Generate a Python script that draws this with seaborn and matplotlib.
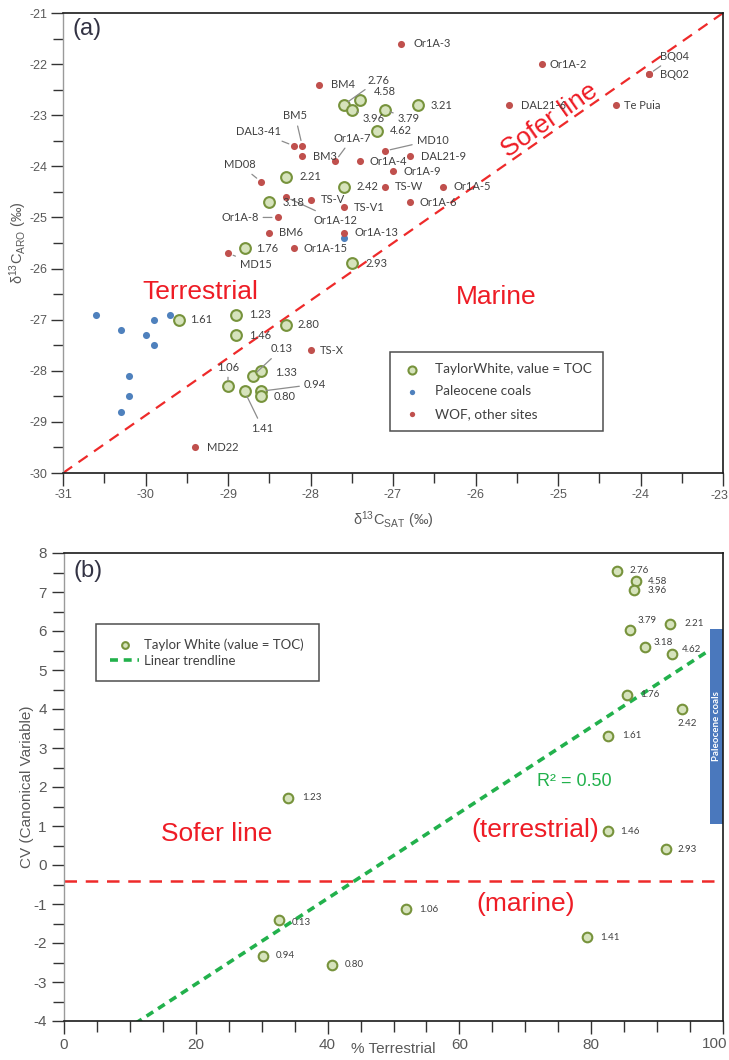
import numpy as np
import matplotlib
matplotlib.use("Agg")
import matplotlib.pyplot as plt
import seaborn as sns
from matplotlib.ticker import MultipleLocator, FuncFormatter

# ---------------- data: panel (a) ----------------
wof_names = ["Or1A-3", "Or1A-2", "BQ04", "BQ02", "DAL21-6", "Te Puia", "BM4", "BM5",
             "DAL3-41", "BM3", "Or1A-7", "Or1A-4", "MD10", "DAL21-9", "MD08", "Or1A-9",
             "TS-W", "Or1A-5", "TS-V", "Or1A-12", "TS-V1", "Or1A-6", "Or1A-8", "BM6",
             "Or1A-13", "Or1A-15", "MD15", "TS-X", "MD22"]
wof_sat = [-26.9, -25.2, -23.9, -23.9, -25.6, -24.3, -27.9, -28.1,
           -28.2, -28.1, -27.7, -27.4, -27.1, -26.8, -28.6, -27.0,
           -27.1, -26.4, -28.0, -28.3, -27.6, -26.8, -28.4, -28.5,
           -27.6, -28.2, -29.0, -28.0, -29.4]
wof_aro = [-21.6, -22.0, -22.2, -22.2, -22.8, -22.8, -22.4, -23.6,
           -23.6, -23.8, -23.9, -23.9, -23.7, -23.8, -24.3, -24.1,
           -24.4, -24.4, -24.65, -24.6, -24.8, -24.7, -25.0, -25.3,
           -25.3, -25.6, -25.7, -27.6, -29.5]

coal_sat = [-30.6, -29.7, -30.3, -29.9, -30.0, -29.9, -30.2, -30.2, -30.3, -27.6]
coal_aro = [-26.9, -26.9, -27.2, -27.0, -27.3, -27.5, -28.1, -28.5, -28.8, -25.4]

tw_toc = ["2.76", "4.58", "3.96", "3.79", "3.21", "4.62", "2.21", "2.42", "3.18",
          "1.76", "2.93", "1.61", "1.23", "1.46", "2.80", "0.13", "1.33", "1.06",
          "1.41", "0.94", "0.80"]
tw_sat = [-27.6, -27.4, -27.5, -27.1, -26.7, -27.2, -28.3, -27.6, -28.5,
          -28.8, -27.5, -29.6, -28.9, -28.9, -28.3, -28.7, -28.6, -29.0,
          -28.8, -28.6, -28.6]
tw_aro = [-22.8, -22.7, -22.9, -22.9, -22.8, -23.3, -24.2, -24.4, -24.7,
          -25.6, -25.9, -27.0, -26.9, -27.3, -27.1, -28.1, -28.0, -28.3,
          -28.4, -28.4, -28.5]

sofer_sat = [-31.0, -23.0]
sofer_aro = [-30.0, -21.0]

# ---------------- data: panel (b) ----------------
twb_toc = ["2.76", "4.58", "3.96", "3.79", "2.21", "3.18", "4.62", "1.76", "2.42",
           "1.61", "1.46", "2.93", "1.41", "1.23", "0.13", "1.06", "0.94", "0.80"]
twb_terr = [83.9, 86.8, 86.5, 85.9, 92.0, 88.2, 92.3, 85.4, 93.8,
            82.5, 82.5, 91.3, 79.4, 34.0, 32.6, 51.9, 30.2, 40.7]
twb_cv = [7.54, 7.28, 7.05, 6.03, 6.18, 5.59, 5.41, 4.36, 4.00,
          3.31, 0.87, 0.41, -1.85, 1.72, -1.41, -1.13, -2.33, -2.56]
sofer_cv = -0.4
trend_x = [0.0, 98.0]
coal_bar_terr = [98.0, 100.0]
coal_bar_cv = [1.05, 6.05]

# ---------------- label layout (pixel offsets) ----------------
lab_a = {
    "Or1A-3": (12, 0, "left", False), "Or1A-2": (8, 0, "left", False),
    "BQ04": (11, 18, "left", True), "BQ02": (11, 0, "left", False),
    "DAL21-6": (12, 0, "left", False), "Te Puia": (8, 0, "left", False),
    "BM4": (12, 0, "left", False), "BM5": (-7, 30, "center", True),
    "DAL3-41": (-13, 14, "right", True), "BM3": (11, 0, "left", False),
    "Or1A-7": (17, 23, "center", True), "Or1A-4": (10, 0, "left", False),
    "MD10": (32, 11, "left", True), "DAL21-9": (11, 0, "left", False),
    "MD08": (-21, 17, "center", True), "Or1A-9": (11, 0, "left", False),
    "TS-W": (10, 0, "left", False), "Or1A-5": (11, 0, "left", False),
    "TS-V": (10, 0, "left", False), "Or1A-12": (28, -23, "left", True),
    "TS-V1": (10, 0, "left", False), "Or1A-6": (10, 0, "left", False),
    "Or1A-8": (-19, 0, "right", True), "BM6": (10, 0, "left", False),
    "Or1A-13": (11, 0, "left", False), "Or1A-15": (10, 0, "left", False),
    "MD15": (12, -11, "left", True), "TS-X": (9, 0, "left", False),
    "MD22": (12, 0, "left", False),
}
lab_tw = {
    "2.76": (24, 25, "left", True), "4.58": (14, 8, "left", False),
    "3.96": (11, -8, "left", True), "3.79": (13, -8, "left", True),
    "3.21": (13, 0, "left", False), "4.62": (13, 0, "left", False),
    "2.21": (14, 0, "left", False), "2.42": (13, 0, "left", False),
    "3.18": (13, 0, "left", False), "1.76": (12, 0, "left", False),
    "2.93": (14, 0, "left", False), "1.61": (12, 0, "left", False),
    "1.23": (13, 0, "left", False), "1.46": (13, 0, "left", False),
    "2.80": (12, 0, "left", False), "0.13": (18, 27, "left", True),
    "1.33": (14, -2, "left", False), "1.06": (0, 19, "center", True),
    "0.94": (43, 7, "left", True), "0.80": (13, 0, "left", False),
    "1.41": (18, -37, "center", True),
}
lab_b = {
    "2.76": (13, 0, "left"), "4.58": (12, 0, "left"), "3.96": (14, 0, "left"),
    "3.79": (7, 9, "left"), "2.21": (14, 0, "left"), "3.18": (8, 4, "left"),
    "4.62": (10, 5, "left"), "1.76": (13, 0, "left"), "2.42": (5, -15, "center"),
    "1.61": (14, 0, "left"), "1.46": (12, 0, "left"), "2.93": (12, 0, "left"),
    "1.41": (13, 0, "left"), "1.23": (14, 0, "left"), "0.13": (13, -3, "left"),
    "1.06": (13, 0, "left"), "0.94": (13, 0, "left"), "0.80": (13, 0, "left"),
}

# ---------------- style ----------------
sns.set_style("ticks")
plt.rcParams["font.family"] = ["Liberation Sans", "DejaVu Sans"]
plt.rcParams["axes.unicode_minus"] = False
plt.rcParams["mathtext.fontset"] = "custom"
plt.rcParams["mathtext.rm"] = "Liberation Sans"
plt.rcParams["mathtext.it"] = "Liberation Sans:italic"

GREEN_FACE = "#D6E3BC"
GREEN_EDGE = "#77933C"
RED = "#C0504D"
BLUE = "#4F81BD"
SOFER = "#EE2A2A"
TREND = "#22B14C"
LABEL = "#404040"
AXIS_GRAY = "#595959"
LABFONT = ["Lato", "DejaVu Sans"]

fig = plt.figure(figsize=(7.29, 10.60), dpi=100)
ax1 = fig.add_axes([63 / 729, 1 - 473 / 1060, 660 / 729, 460 / 1060])
ax2 = fig.add_axes([64 / 729, 1 - 1021 / 1060, 659 / 729, 468 / 1060])


def style_axes(ax, size, pad):
    for side in ["top", "right", "bottom"]:
        ax.spines[side].set_color("#1a1a1a")
        ax.spines[side].set_linewidth(1.2)
    ax.spines["left"].set_color("#9a9a9a")
    ax.spines["left"].set_linewidth(1.0)
    ax.tick_params(which="major", direction="out", length=9, width=1.0, pad=pad,
                   colors="#333333", labelcolor=AXIS_GRAY, labelsize=size)
    ax.tick_params(which="minor", direction="out", length=7, width=1.0, colors="#333333")


def annotate(ax, text, x, y, dx, dy, ha, leader, size, fam):
    arrow = None
    if leader:
        arrow = dict(arrowstyle="-", color="#8c8c8c", lw=0.9, shrinkA=1, shrinkB=4)
    ax.annotate(text, (x, y), xytext=(dx, dy), textcoords="offset pixels",
                ha=ha, va="center", fontsize=size, color=LABEL, family=fam,
                arrowprops=arrow, zorder=5)


# ---------------- panel (a) ----------------
sns.lineplot(x=sofer_sat, y=sofer_aro, ax=ax1, color=SOFER, lw=1.6,
             linestyle=(0, (5, 3.5)), zorder=1)
sns.scatterplot(x=tw_sat, y=tw_aro, ax=ax1, s=60, color=GREEN_FACE,
                edgecolor=GREEN_EDGE, linewidth=1.5, zorder=3,
                label="TaylorWhite, value = TOC")
sns.scatterplot(x=coal_sat, y=coal_aro, ax=ax1, s=26, color=BLUE,
                edgecolor=BLUE, linewidth=0, zorder=3, label="Paleocene coals")
sns.scatterplot(x=wof_sat, y=wof_aro, ax=ax1, s=26, color=RED,
                edgecolor=RED, linewidth=0, zorder=4, label="WOF, other sites")

for n, x, y in zip(wof_names, wof_sat, wof_aro):
    dx, dy, ha, ld = lab_a[n]
    annotate(ax1, n, x, y, dx, dy, ha, ld, 8, LABFONT)
for n, x, y in zip(tw_toc, tw_sat, tw_aro):
    dx, dy, ha, ld = lab_tw[n]
    annotate(ax1, n, x, y, dx, dy, ha, ld, 8, LABFONT)

XMIN_A, XMAX_A = -31, -23
ax1.set_xlim(XMIN_A, XMAX_A)
ax1.set_ylim(-30, -21)
ax1.xaxis.set_major_locator(MultipleLocator(1))
ax1.xaxis.set_minor_locator(MultipleLocator(0.5))
ax1.yaxis.set_major_locator(MultipleLocator(1))
ax1.yaxis.set_minor_locator(MultipleLocator(0.5))
# last tick label is drawn separately so that it stays inside the figure
ax1.xaxis.set_major_formatter(FuncFormatter(lambda v, p: "" if v >= XMAX_A else f"{v:g}"))
ax1.set_xlabel(r"δ$^{13}$C$_{\mathrm{SAT}}$ (‰)", fontsize=10.5, color=AXIS_GRAY,
               labelpad=6)
ax1.set_ylabel(r"δ$^{13}$C$_{\mathrm{ARO}}$ (‰)", fontsize=10.5, color=AXIS_GRAY)
ax1.yaxis.set_label_coords(-0.052, 0.5)
style_axes(ax1, 9, 2.5)
ax1.annotate(f"{XMAX_A:g}", xy=(1, 0), xycoords="axes fraction", xytext=(-4, -17),
             textcoords="offset pixels", ha="center", va="top", fontsize=9,
             color=AXIS_GRAY)

ax1.text(0.015, 0.965, "(a)", transform=ax1.transAxes, fontsize=17,
         color="#333344", ha="left", va="center")
ax1.text(-29.34, -26.45, "Terrestrial", fontsize=19, color="#EE1C25",
         ha="center", va="center")
ax1.text(-25.75, -26.55, "Marine", fontsize=19, color="#EE1C25",
         ha="center", va="center")
ax1.text(-25.1, -23.1, "Sofer line", fontsize=19, color="#EE1C25",
         ha="center", va="center", rotation=35, rotation_mode="anchor")

h, l = ax1.get_legend_handles_labels()
leg1 = ax1.legend(h, l, loc="upper left", bbox_to_anchor=(0.485, 0.277),
                  frameon=True, fancybox=False, edgecolor="#222222",
                  prop={"family": LABFONT, "size": 9.8}, labelcolor="#404040",
                  markerscale=0.75, handletextpad=0.9, borderpad=0.8,
                  labelspacing=0.75, handlelength=1.6)
leg1.get_frame().set_linewidth(1.1)

# ---------------- panel (b) ----------------
ax2.axhline(sofer_cv, color=SOFER, lw=1.8, linestyle=(0, (5, 3.5)), zorder=1)

slope, intercept = np.polyfit(twb_terr, twb_cv, 1)
pred = slope * np.asarray(twb_terr) + intercept
r2 = 1 - np.sum((np.asarray(twb_cv) - pred) ** 2) / np.sum((np.asarray(twb_cv) - np.mean(twb_cv)) ** 2)
tx = np.asarray(trend_x)
sns.lineplot(x=tx, y=slope * tx + intercept, ax=ax2, color=TREND, lw=2.6,
             linestyle=(0, (2.2, 1.6)), zorder=2, label="Linear trendline")
sns.scatterplot(x=twb_terr, y=twb_cv, ax=ax2, s=48, color=GREEN_FACE,
                edgecolor=GREEN_EDGE, linewidth=1.5, zorder=3,
                label="Taylor White (value = TOC)")
for n, x, y in zip(twb_toc, twb_terr, twb_cv):
    dx, dy, ha = lab_b[n]
    annotate(ax2, n, x, y, dx, dy, ha, False, 7, LABFONT)

ax2.fill_between(coal_bar_terr, coal_bar_cv[0], coal_bar_cv[1], color="#4A78BD",
                 lw=0, zorder=2)
ax2.text(np.mean(coal_bar_terr), np.mean(coal_bar_cv), "Paleocene coals",
         rotation=90, color="white", fontsize=7, ha="center", va="center",
         family=LABFONT, fontweight="bold")

ax2.set_xlim(0, 100)
ax2.set_ylim(-4, 8)
ax2.xaxis.set_major_locator(MultipleLocator(20))
ax2.xaxis.set_minor_locator(MultipleLocator(5))
ax2.yaxis.set_major_locator(MultipleLocator(1))
ax2.yaxis.set_minor_locator(MultipleLocator(0.5))
ax2.xaxis.set_major_formatter(FuncFormatter(lambda v, p: "" if v >= 100 else f"{v:g}"))
ax2.set_xlabel("% Terrestrial", fontsize=11, color=AXIS_GRAY)
ax2.xaxis.set_label_coords(0.5, -0.045)
ax2.set_ylabel("CV (Canonical Variable)", fontsize=11, color=AXIS_GRAY)
ax2.yaxis.set_label_coords(-0.045, 0.5)
style_axes(ax2, 11, 3.5)
ax2.tick_params(which="minor", length=8)
ax2.annotate("100", xy=(1, 0), xycoords="axes fraction", xytext=(-8, -16),
             textcoords="offset pixels", ha="center", va="top", fontsize=11,
             color=AXIS_GRAY)

ax2.text(0.015, 0.962, "(b)", transform=ax2.transAxes, fontsize=17,
         color="#333344", ha="left", va="center")
ax2.text(23.2, 0.8, "Sofer line", fontsize=19, color="#EE1C25", ha="center", va="center")
ax2.text(71.5, 0.9, "(terrestrial)", fontsize=19, color="#EE1C25", ha="center", va="center")
ax2.text(70.0, -1.0, "(marine)", fontsize=19, color="#EE1C25", ha="center", va="center")
ax2.text(77.5, 2.15, f"R² = {r2:.2f}", fontsize=13, color=TREND, ha="center", va="center")

h2, l2 = ax2.get_legend_handles_labels()
order = [l2.index("Taylor White (value = TOC)"), l2.index("Linear trendline")]
leg2 = ax2.legend([h2[i] for i in order], [l2[i] for i in order], loc="upper left",
                  bbox_to_anchor=(0.038, 0.863), frameon=True, fancybox=False,
                  edgecolor="#222222", prop={"family": LABFONT, "size": 9.5},
                  labelcolor="#404040", markerscale=0.7, handlelength=2.2,
                  handletextpad=0.4, borderpad=1.1, labelspacing=0.3)
leg2.get_frame().set_linewidth(1.1)

fig.savefig("out.png", dpi=100)
